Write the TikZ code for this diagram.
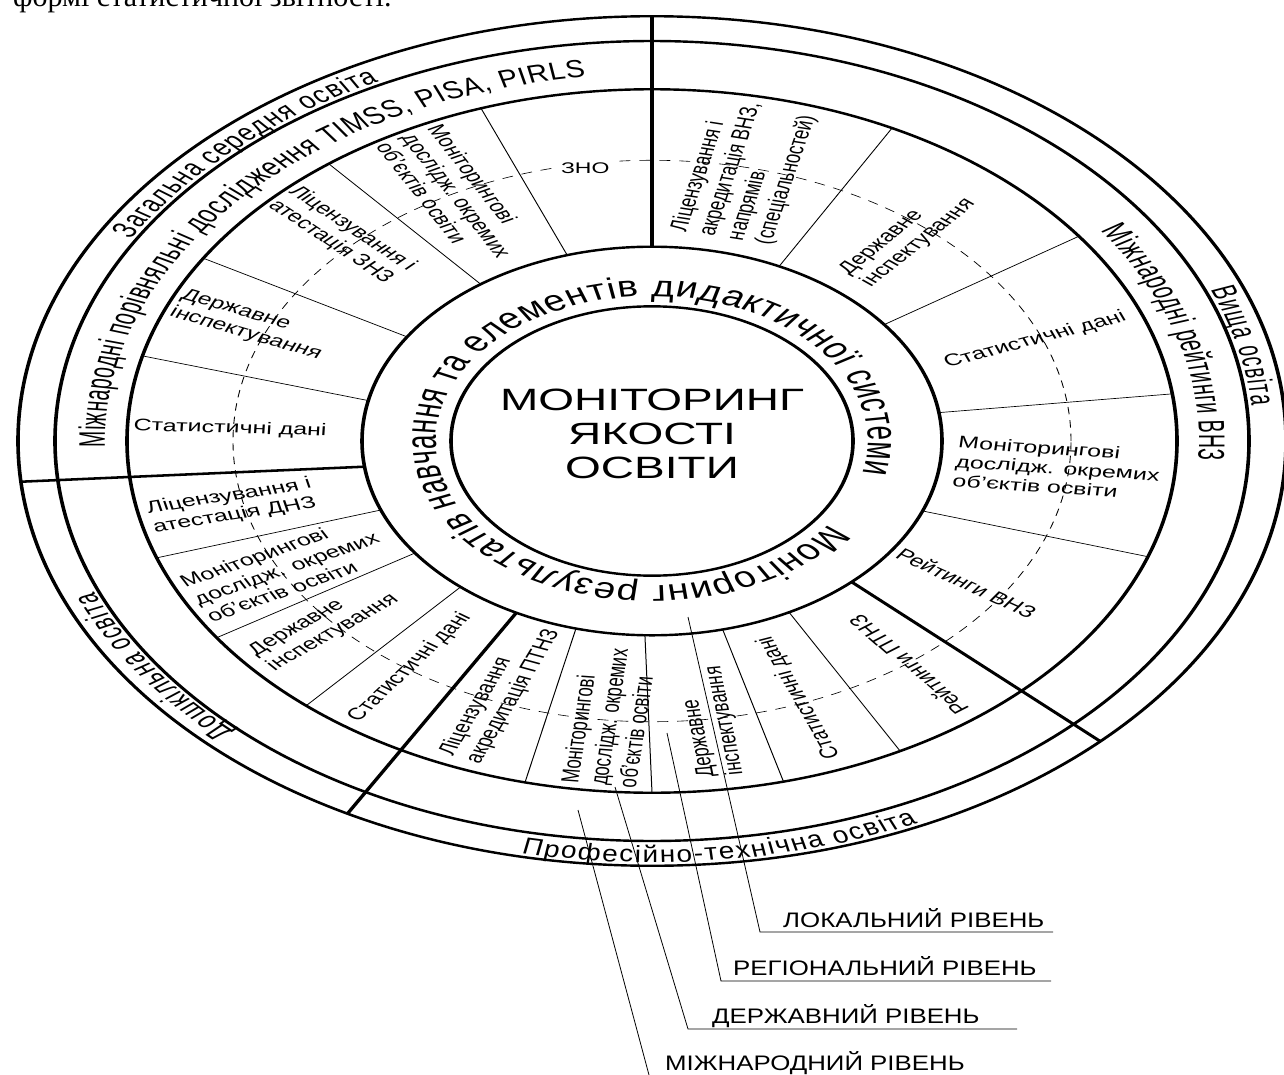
\documentclass[tikz,border=0pt]{standalone}
\usepackage{fontspec}
\setmainfont{Liberation Sans}
\newfontfamily\serifface{Liberation Serif}
\newfontfamily\condA[FakeStretch=0.8]{Liberation Sans}
\newfontfamily\condB[FakeStretch=0.78]{Liberation Sans}
\newfontfamily\condD[FakeStretch=0.88]{Liberation Sans}
\usetikzlibrary{decorations.text}
\newcommand\segfont{\fontsize{25}{29}\selectfont}
\newcommand\ringAfont{\condA\fontsize{35}{35}\selectfont}
\newcommand\ringBfont{\condB\fontsize{37}{37}\selectfont}
\newcommand\midfont{\condD\fontsize{44}{44}\selectfont}
\newcommand\bigfont{\fontsize{46}{51}\selectfont}
\newcommand\lvlfont{\fontsize{21}{21}\selectfont}
\begin{document}
\begin{tikzpicture}[x=1pt,y=1pt,
  ringline/.style={line width=3.6pt},
  divline/.style={line width=3.8pt},
  segline/.style={line width=1pt},
  dashline/.style={line width=0.9pt, dash pattern=on 11pt off 9pt},
  segtext/.style={font=\segfont, inner sep=0pt, align=left},
  leader/.style={line width=0.8pt},
  lvl/.style={font=\lvlfont, inner sep=0pt, anchor=base west},
]
\useasboundingbox (0,0) rectangle (1284,-1075);
\node[font=\serifface\fontsize{30}{30}\selectfont, anchor=base west, inner sep=0pt] (toptext) at (13,-7) {формі статистичної звітності.};

\begin{scope}[transform canvas={yscale=0.67}]
\begin{scope}[shift={(652,-658.21)}]
% thin segment lines
\draw[segline] (107:290) -- (109:525);
\draw[segline] (126.2:290) -- (128:525);
\draw[segline] (147.6:290) -- (148.7:525);
\draw[segline] (168:290) -- (166:525);
\draw[segline] (200.8:290) -- (199.4:525);
\draw[segline] (215.2:290) -- (214:525);
\draw[segline] (228.7:290) -- (228.8:525);
\draw[segline] (254.8:290) -- (256:525);
\draw[segline] (268.6:290) -- (270:525);
\draw[segline] (284.1:290) -- (284.5:525);
\draw[segline] (298.2:290) -- (298.2:525);
\draw[segline] (-21.1:290) -- (-19.2:525);
\draw[segline] (8.4:290) -- (7.7:525);
\draw[segline] (36.8:290) -- (35.6:525);
\draw[segline] (64:290) -- (62.8:525);
% dashed ring
\draw[dashline] (0,0) circle[radius=419];
% rings
\draw[ringline] (0,0) circle[radius=634];
\draw[ringline] (0,0) circle[radius=597];
\draw[ringline] (0,0) circle[radius=525];
\draw[ringline] (0,0) circle[radius=290];
\draw[ringline] (0,0) circle[radius=201];
% thick dividers
\draw[divline] (90:290) -- (90:634);
\draw[divline] (187.6:290) -- (185.5:634);
\draw[divline] (242.1:290) -- (241.3:634);
\draw[divline] (313.5:290) -- (315:634);

% centre
\node[font=\bigfont, align=center, inner sep=0pt] (title) at (0,11) {МОНІТОРИНГ\\ЯКОСТІ\\ОСВІТИ};

% ring D text
\path[decorate, decoration={text along path, text align={fit to path},
  text={|\midfont|Моніторинг результатів навчання та елементів дидактичної системи}}]
  (-35:216) arc[start angle=-35, end angle=-373, radius=216];

% ring A / B texts
\path[decorate, decoration={text along path, text align={fit to path},
  text={|\ringAfont|Загальна середня освіта}}]
  (150:602) arc[start angle=150, end angle=117, radius=602];
\path[decorate, decoration={text along path, text align={fit to path},
  text={|\ringBfont|Міжнародні порівняльні дослідження TIMSS, PISA, PIRLS}}]
  (181:547) arc[start angle=181, end angle=97, radius=547];
\path[decorate, decoration={text along path, text align={fit to path},
  text={|\ringAfont|Вища освіта}}]
  (22:602) arc[start angle=22, end angle=5, radius=602];
\path[decorate, decoration={text along path, text align={fit to path},
  text={|\ringBfont|Міжнародні рейтинги ВНЗ}}]
  (35:547) arc[start angle=35, end angle=-3, radius=547];
\path[decorate, decoration={text along path, text align={fit to path},
  text={|\ringAfont|Професійно-технічна освіта}}]
  (-102:629) arc[start angle=-102, end angle=-65, radius=629];
\path[decorate, decoration={text along path, text align={fit to path},
  text={|\ringAfont|Дошкільна освіта}}]
  (226:602) arc[start angle=226, end angle=202, radius=602];

% general secondary sector
\node[segtext, fill=white, inner sep=4pt, font=\fontsize{23}{23}\selectfont] (gsZno) at (99.3:413) {ЗНО};
\node[segtext, anchor=west, rotate=-62] (gsMon) at (118:518) {Моніторингові\\дослідж. окремих\\об’єктів освіти};
\node[segtext, anchor=west, rotate=-44.7] (gsLic) at (135.3:520) {Ліцензування і\\атестація ЗНЗ};
\node[segtext, anchor=west, rotate=-23.4] (gsDer) at (156.6:518) {Державне\\інспектування};
\node[segtext, anchor=west, rotate=-2.5] (gsSta) at (177.5:519) {Статистичні дані};
% preschool sector
\node[segtext, anchor=west, rotate=13] (prLic) at (193:515) {Ліцензування і\\атестація ДНЗ};
\node[segtext, anchor=west, rotate=27.4] (prMon) at (207.4:515) {Моніторингові\\дослідж. окремих\\об’єктів освіти};
\node[segtext, anchor=west, rotate=40] (prDer) at (220:510) {Державне\\інспектування};
\node[segtext, anchor=west, rotate=54.3] (prSta) at (234.3:512) {Статистичні дані};
% vocational sector
\node[segtext, anchor=west, rotate=68] (vtLic) at (248:512) {Ліцензування\\акредитація ПТНЗ};
\node[segtext, anchor=west, rotate=84] (vtMon) at (264:517) {Моніторингові\\дослідж. окремих\\об’єктів освіти};
\node[segtext, anchor=west, rotate=98] (vtDer) at (278:505) {Державне\\інспектування};
\node[segtext, anchor=west, rotate=111] (vtSta) at (291:507) {Статистичні дані};
\node[segtext, anchor=west, rotate=127.5] (vtRat) at (307.5:511) {Рейтинги ПТНЗ};
% higher sector
\node[segtext, anchor=west, rotate=-34] (hiRat) at (-34:298) {Рейтинги ВНЗ};
\node[segtext, anchor=west, rotate=-5.7] (hiMon) at (-5.7:305) {Моніторингові\\дослідж. окремих\\об’єктів освіти};
\node[segtext, anchor=west, rotate=21.5] (hiSta) at (21.5:315) {Статистичні дані};
\node[segtext, anchor=west, rotate=50] (hiDer) at (50:316) {Державне\\інспектування};
\node[segtext, anchor=west, rotate=77] (hiLic) at (77:311) {Ліцензування і\\акредитація ВНЗ,\\напрямів\\(спеціальностей)};
\end{scope}
\end{scope}

% level leaders and labels
\coordinate (locA) at (688,-617);
\coordinate (locB) at (760,-932);
\coordinate (locC) at (1053,-932);
\coordinate (regA) at (667,-733);
\coordinate (regB) at (721,-981);
\coordinate (regC) at (1051,-981);
\coordinate (staA) at (615,-787);
\coordinate (staB) at (688,-1029);
\coordinate (staC) at (1017,-1029);
\coordinate (intA) at (578,-810);
\coordinate (intB) at (649,-1075);
\draw[leader] (locA) -- (locB) -- (locC);
\draw[leader] (regA) -- (regB) -- (regC);
\draw[leader] (staA) -- (staB) -- (staC);
\draw[leader] (intA) -- (intB);
\node[lvl] (locL) at (783,-927) {\scalebox{1.23}[1]{ЛОКАЛЬНИЙ РІВЕНЬ}};
\node[lvl] (regL) at (733,-975) {\scalebox{1.23}[1]{РЕГІОНАЛЬНИЙ РІВЕНЬ}};
\node[lvl] (staL) at (712,-1023) {\scalebox{1.23}[1]{ДЕРЖАВНИЙ РІВЕНЬ}};
\node[lvl] (intL) at (665,-1070) {\scalebox{1.23}[1]{МІЖНАРОДНИЙ РІВЕНЬ}};
\end{tikzpicture}
\end{document}
